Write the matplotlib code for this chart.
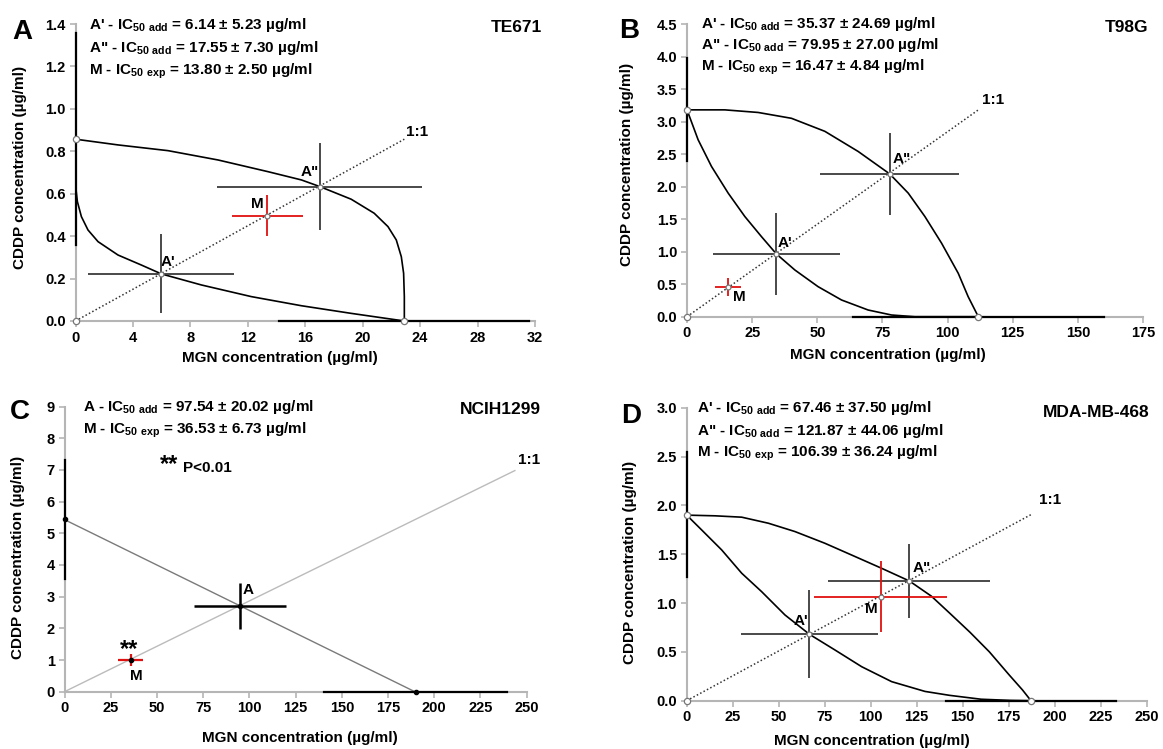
import matplotlib.pyplot as plt
import numpy as np

plt.rcParams['font.family'] = ['Liberation Sans', 'DejaVu Sans']
plt.rcParams['font.weight'] = 'bold'
plt.rcParams['axes.labelweight'] = 'bold'
plt.rcParams['mathtext.default'] = 'regular'

W, H = 1163, 749

# ---- panel A : TE671 ----
a_low_x = [0, 0.13, 0.41, 0.87, 1.57, 2.96, 4.58, 5.98, 8.76, 12.24, 15.73, 19.2, 22.9]
a_low_y = [0.641, 0.563, 0.492, 0.429, 0.374, 0.311, 0.264, 0.222, 0.170, 0.115, 0.072, 0.036, 0.0]
a_up_x = [0, 2.96, 6.44, 9.93, 13.4, 15.73, 17.0, 19.2, 20.8, 21.76, 22.34, 22.69, 22.85, 22.9, 22.9]
a_up_y = [0.857, 0.830, 0.803, 0.759, 0.704, 0.665, 0.634, 0.574, 0.508, 0.445, 0.382, 0.303, 0.225, 0.115, 0.0]
a_pt_x = [5.98, 17.0, 13.36]
a_pt_y = [0.222, 0.634, 0.497]
a_xerr = [5.08, 7.14, 2.46]
a_yerr = [0.186, 0.205, 0.095]
a_single = (22.9, 8.7, 0.857, 0.5)   # MGN ic50, err, CDDP ic50, err

# ---- panel B : T98G ----
b_low_x = [0, 4.27, 9.4, 15.8, 22.2, 28.6, 34.3, 41.4, 50.3, 59.3, 69.5, 78.5, 87.4, 111.8]
b_low_y = [3.18, 2.72, 2.31, 1.90, 1.54, 1.23, 0.965, 0.718, 0.462, 0.257, 0.103, 0.026, 0.0, 0.0]
b_up_x = [0, 14.5, 27.3, 40.1, 52.9, 65.7, 77.8, 84.9, 91.3, 97.7, 104.1, 107.9, 111.8]
b_up_y = [3.18, 3.18, 3.14, 3.05, 2.85, 2.54, 2.195, 1.90, 1.54, 1.13, 0.667, 0.308, 0.0]
b_pt_x = [34.3, 77.8, 15.8]
b_pt_y = [0.965, 2.195, 0.452]
b_xerr = [24.35, 26.65, 5.1]
b_yerr = [0.633, 0.633, 0.141]
b_single = (111.8, 48.2, 3.18, 0.79)

# ---- panel C : NCIH1299 ----
c_iso_x = [0, 189.5]
c_iso_y = [5.43, 0]
c_ratio_x = [0, 243.6]
c_pt_x = [94.9, 35.7]
c_pt_y = [2.71, 1.0]
c_xerr = [25.0, 6.85]
c_yerr = [0.73, 0.185]
c_single = (189.9, 49.3, 5.44, 1.87)

# ---- panel D : MDA-MB-468 ----
d_low_x = [0, 8.1, 19.0, 29.9, 40.7, 53.4, 66.7, 80.6, 95.1, 111.4, 129.5, 142.8, 160.0, 176.0, 187.1]
d_low_y = [1.90, 1.749, 1.544, 1.305, 1.117, 0.878, 0.680, 0.519, 0.348, 0.195, 0.095, 0.055, 0.015, 0.003, 0.0]
d_up_x = [0, 15.4, 29.9, 44.4, 58.8, 75.1, 91.5, 105.9, 121.0, 133.0, 143.0, 154.0, 164.5, 175.3, 182.5, 187.1]
d_up_y = [1.90, 1.893, 1.879, 1.817, 1.732, 1.612, 1.476, 1.356, 1.226, 1.07, 0.895, 0.70, 0.50, 0.263, 0.11, 0.0]
d_pt_x = [66.7, 121.0, 105.4]
d_pt_y = [0.680, 1.226, 1.066]
d_xerr = [37.45, 44.1, 36.2]
d_yerr = [0.449, 0.379, 0.364]
d_single = (187.1, 46.3, 1.905, 0.641)

fig = plt.figure(figsize=(W / 100, H / 100), dpi=100)


def px_axes(x0, x1, y0, y1):
    return fig.add_axes([x0 / W, 1 - y1 / H, (x1 - x0) / W, (y1 - y0) / H])


def to_axes(ax, x, y):
    l, b, w, h = ax.get_position().bounds
    return (x / W - l) / w, ((1 - y / H) - b) / h


def setup(ax, xmax, xstep, ymax, ystep, fmt, xlab, ylab):
    ax.set_xlim(0, xmax)
    ax.set_ylim(0, ymax)
    ax.set_xticks(np.arange(0, xmax + 1e-9, xstep))
    ax.set_yticks(np.arange(0, ymax + 1e-9, ystep))
    ax.set_yticklabels([fmt.format(v) for v in ax.get_yticks()])
    for s in ['top', 'right']:
        ax.spines[s].set_visible(False)
    for s in ['left', 'bottom']:
        ax.spines[s].set_color('#b5b5b5')
        ax.spines[s].set_linewidth(1.5)
    ax.tick_params(direction='out', length=4, width=1.2, color='#b5b5b5', labelsize=10.5, pad=3)
    for t in ax.get_xticklabels() + ax.get_yticklabels():
        t.set_fontweight('bold')
    ax.set_xlabel('MGN concentration (µg/ml)', fontsize=11, va='center')
    ax.set_ylabel('CDDP concentration (µg/ml)', fontsize=11, va='center')
    ax.xaxis.set_label_coords(*to_axes(ax, *xlab))
    ax.yaxis.set_label_coords(*to_axes(ax, *ylab))


def single_bars(ax, s):
    mx, mxe, cy, cye = s
    ax.plot([mx - mxe, mx + mxe], [0, 0], color='black', lw=1.6, clip_on=False, zorder=3)
    ax.plot([0, 0], [cy - cye, cy + cye], color='black', lw=1.6, clip_on=False, zorder=3)


def crosses(ax, xs, ys, xe, ye, colors, lw=1.3):
    for x, y, dx, dy, c in zip(xs, ys, xe, ye, colors):
        ax.errorbar(x, y, xerr=dx, yerr=dy, fmt='none', ecolor=c, elinewidth=lw, capsize=0, zorder=4)


def opencircles(ax, xs, ys, size=4.5):
    ax.plot(xs, ys, 'o', ms=size, mfc='white', mec='#777777', mew=0.9, ls='none', clip_on=False, zorder=6)


def ftext(x, y, s, **kw):
    fig.text(x / W, 1 - y / H, s, va='center', **kw)


def lab(ax, x, y, s):
    ax.text(x, y, s, fontsize=11, va='center')


GREY = '#3a3a3a'
RED = '#e01010'

# ---------- A ----------
ax = px_axes(75.5, 535, 24, 321)
setup(ax, 32, 4, 1.4, 0.2, '{:.1f}', (280, 358), (20, 167))
ax.plot(a_low_x, a_low_y, color='black', lw=1.2, zorder=3)
ax.plot(a_up_x, a_up_y, color='black', lw=1.2, zorder=3)
ax.plot([0, a_single[0]], [0, a_single[2]], color='#333333', lw=1.1, ls=(0, (1, 1.5)), zorder=2)
single_bars(ax, a_single)
crosses(ax, a_pt_x, a_pt_y, a_xerr, a_yerr, [GREY, GREY, RED])
opencircles(ax, [0, 0, a_single[0]], [0, a_single[2], 0])
opencircles(ax, a_pt_x, a_pt_y, 3.5)
lab(ax, 23.0, 0.892, '1:1')
lab(ax, 5.96, 0.28, "A'")
lab(ax, 15.7, 0.70, 'A"')
lab(ax, 12.2, 0.552, 'M')

ftext(88.6, 25, "A' - IC$_{50\\ add}$ = 6.14 ± 5.23 µg/ml", fontsize=11)
ftext(88.6, 48, 'A" - IC$_{50\\ add}$ = 17.55 ± 7.30 µg/ml', fontsize=11)
ftext(88.6, 71, 'M - IC$_{50\\ exp}$ = 13.80 ± 2.50 µg/ml', fontsize=11)
ftext(542, 28, 'TE671', fontsize=12.5, ha='right')
ftext(12, 32, 'A', fontsize=20)

# ---------- B ----------
ax = px_axes(687, 1143, 24, 316.7)
setup(ax, 175, 25, 4.5, 0.5, '{:.1f}', (888, 355), (627, 164))
ax.plot(b_low_x, b_low_y, color='black', lw=1.2, zorder=3)
ax.plot(b_up_x, b_up_y, color='black', lw=1.2, zorder=3)
ax.plot([0, b_single[0]], [0, b_single[2]], color='#333333', lw=1.1, ls=(0, (1, 1.5)), zorder=2)
single_bars(ax, b_single)
crosses(ax, b_pt_x, b_pt_y, b_xerr, b_yerr, [GREY, GREY, RED])
opencircles(ax, [0, 0, b_single[0]], [0, b_single[2], 0])
opencircles(ax, b_pt_x, b_pt_y, 3.5)
lab(ax, 113.3, 3.33, '1:1')
lab(ax, 34.8, 1.13, "A'")
lab(ax, 79.1, 2.43, 'A"')
lab(ax, 17.7, 0.30, 'M')

ftext(701, 24, "A' - IC$_{50\\ add}$ = 35.37 ± 24.69 µg/ml", fontsize=11)
ftext(701, 45, 'A" - IC$_{50\\ add}$ = 79.95 ± 27.00 µg/ml', fontsize=11)
ftext(701, 67, 'M - IC$_{50\\ exp}$ = 16.47 ± 4.84 µg/ml', fontsize=11)
ftext(1148, 28, 'T98G', fontsize=12.5, ha='right')
ftext(619, 31, 'B', fontsize=20)

# ---------- C ----------
ax = px_axes(64.5, 526.7, 406.5, 691.7)
setup(ax, 250, 25, 9, 1, '{:.0f}', (300, 738), (18.5, 557))
ax.plot(c_iso_x, c_iso_y, color='#7a7a7a', lw=1.0, zorder=3)
ax.plot(c_ratio_x, [0, c_ratio_x[1] * c_single[2] / c_single[0]], color='#bbbbbb', lw=1.0, zorder=2)
single_bars(ax, c_single)
crosses(ax, [c_pt_x[0]], [c_pt_y[0]], [c_xerr[0]], [c_yerr[0]], ['black'], lw=1.8)
crosses(ax, [c_pt_x[1]], [c_pt_y[1]], [c_xerr[1]], [c_yerr[1]], [RED], lw=1.6)
ax.plot([0, c_single[0]] + c_pt_x, [c_single[2], 0] + c_pt_y, 'o', ms=3, color='black', clip_on=False, zorder=6)
lab(ax, 245.2, 7.31, '1:1')
lab(ax, 96.4, 3.2, 'A')
lab(ax, 35.3, 0.51, 'M')
ax.text(30.0, 1.13, '**', fontsize=17, va='baseline')
ax.text(51.6, 6.96, '**', fontsize=17, va='baseline')
ax.text(63.9, 7.05, 'P<0.01', fontsize=11, va='center')

ftext(82.7, 406.7, 'A - IC$_{50\\ add}$ = 97.54 ± 20.02 µg/ml', fontsize=11)
ftext(82.7, 430, 'M - IC$_{50\\ exp}$ = 36.53 ± 6.73 µg/ml', fontsize=11)
ftext(540.6, 409, 'NCIH1299', fontsize=12.5, ha='right')
ftext(10, 412, 'C', fontsize=20)

# ---------- D ----------
ax = px_axes(686.7, 1146.7, 407.7, 700.7)
setup(ax, 250, 25, 3.0, 0.5, '{:.1f}', (871.5, 741), (630, 562.5))
ax.plot(d_low_x, d_low_y, color='black', lw=1.2, zorder=3)
ax.plot(d_up_x, d_up_y, color='black', lw=1.2, zorder=3)
ax.plot([0, d_single[0]], [0, d_single[2]], color='#333333', lw=1.1, ls=(0, (1, 1.5)), zorder=2)
single_bars(ax, d_single)
crosses(ax, d_pt_x, d_pt_y, d_xerr, d_yerr, [GREY, GREY, RED])
opencircles(ax, [0, 0, d_single[0]], [0, d_single[2], 0])
opencircles(ax, d_pt_x, d_pt_y, 3.5)
lab(ax, 191.2, 2.06, '1:1')
lab(ax, 58.2, 0.816, "A'")
lab(ax, 122.7, 1.358, 'A"')
lab(ax, 97.1, 0.943, 'M')

ftext(697.3, 408, "A' - IC$_{50\\ add}$ = 67.46 ± 37.50 µg/ml", fontsize=11)
ftext(697.3, 431, 'A" - IC$_{50\\ add}$ = 121.87 ± 44.06 µg/ml', fontsize=11)
ftext(697.3, 453, 'M - IC$_{50\\ exp}$ = 106.39 ± 36.24 µg/ml', fontsize=11)
ftext(1150, 413, 'MDA-MB-468', fontsize=12.5, ha='right')
ftext(621, 416, 'D', fontsize=20)

fig.savefig('out.png', dpi=100)
